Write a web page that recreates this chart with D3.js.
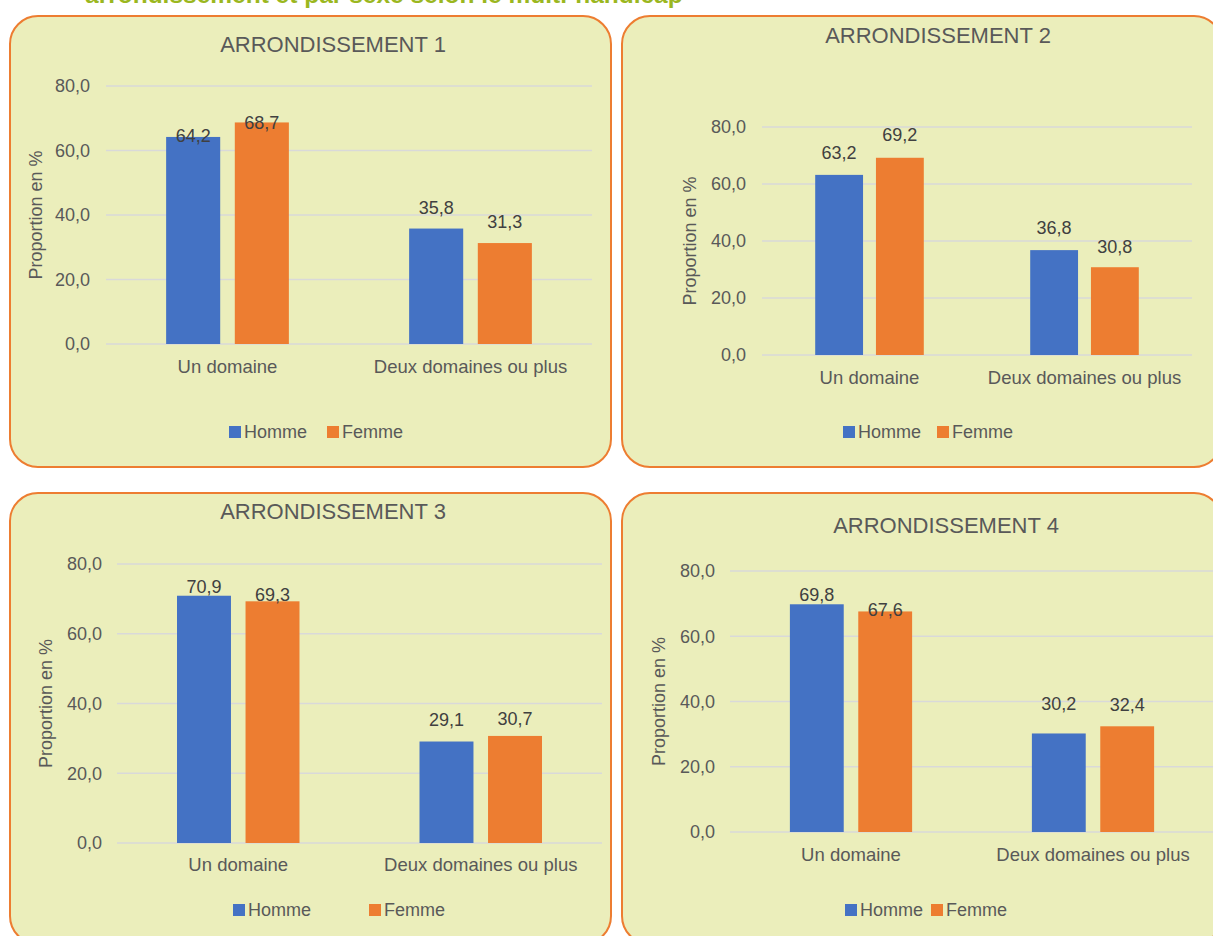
<!DOCTYPE html>
<html>
<head>
<meta charset="utf-8">
<script src="https://cdn.jsdelivr.net/npm/d3@7"></script>
<style>
  body { margin: 0; background: #ffffff; }
  svg { display: block; font-family: "Liberation Sans", Arial, sans-serif; }
  .grid line { stroke: #d9d9d9; stroke-width: 1.5; }
  .tick text { fill: #595959; font-size: 18px; }
</style>
</head>
<body>
<div id="chart"></div>
<script>
// data
var categories = ["Un domaine", "Deux domaines ou plus"];
var series = ["Homme", "Femme"];
var titles = ["ARRONDISSEMENT 1", "ARRONDISSEMENT 2", "ARRONDISSEMENT 3", "ARRONDISSEMENT 4"];
var homme = [[64.2, 35.8], [63.2, 36.8], [70.9, 29.1], [69.8, 30.2]];
var femme = [[68.7, 31.3], [69.2, 30.8], [69.3, 30.7], [67.6, 32.4]];
var yTicks = [0, 20, 40, 60, 80];
var pageTitle = "arrondissement et par sexe selon le multi-handicap";

var colors = ["#4472c4", "#ed7d31"];

// layout of the four panels (absolute page coordinates)
var panels = [
    { box: [10, 16, 601, 451], title: [333, 44], x: [106, 592], y: [344, 86], tickX: 90, ylabX: 36, catY: 367, legY: 432, leg: [229, 327],
      lab: [[-1, 0], [-21, -21]] },
    { box: [622, 16, 600, 451], title: [938, 35], x: [762, 1192], y: [355, 127], tickX: 746, ylabX: 690, catY: 378, legY: 432, leg: [843, 937],
      lab: [[-22, -23], [-22, -21]] },
    { box: [10, 493, 601, 451], title: [333, 511], x: [117, 602], y: [843, 564], tickX: 102, ylabX: 46, catY: 865, legY: 910, leg: [233, 369],
      lab: [[-9, -7], [-22, -17]] },
    { box: [622, 493, 600, 451], title: [946, 525], x: [730, 1214], y: [832, 571], tickX: 715, ylabX: 659, catY: 855, legY: 910, leg: [845, 931],
      lab: [[-10, -2], [-30, -22]] }
];

var fr = d3.formatLocale({ decimal: ",", thousands: " ", grouping: [3], currency: ["", " €"] });
var fmt = fr.format(".1f");

var svg = d3.select("#chart").append("svg")
    .attr("width", 1213)
    .attr("height", 936);

// heading above the panels, cut off by the top edge as in the source
svg.append("text")
    .attr("x", 85)
    .attr("y", 3)
    .attr("fill", "#9bb71f")
    .style("font-size", "24.5px")
    .style("font-weight", "bold")
    .text(pageTitle);

panels.forEach(function (p, i) {
    var g = svg.append("g");

    g.append("rect")
        .attr("x", p.box[0])
        .attr("y", p.box[1])
        .attr("width", p.box[2])
        .attr("height", p.box[3])
        .attr("rx", 28)
        .attr("fill", "#ebeebb")
        .attr("stroke", "#ed7d31")
        .attr("stroke-width", 2);

    g.append("text")
        .attr("x", p.title[0])
        .attr("y", p.title[1])
        .attr("dy", "0.35em")
        .attr("text-anchor", "middle")
        .attr("fill", "#595959")
        .style("font-size", "22px")
        .text(titles[i]);

    var xScale = d3.scaleBand()
        .domain(categories)
        .range(p.x)
        .padding(0);

    var yScale = d3.scaleLinear()
        .domain([0, 80])
        .range(p.y);

    // gridlines
    g.append("g")
        .attr("class", "grid")
        .selectAll("line")
        .data(yTicks)
        .enter().append("line")
        .attr("x1", p.x[0])
        .attr("x2", p.x[1])
        .attr("y1", function (d) { return yScale(d); })
        .attr("y2", function (d) { return yScale(d); });

    var yAxis = g.append("g")
        .attr("transform", "translate(" + p.tickX + ",0)")
        .call(d3.axisLeft(yScale).tickValues(yTicks).tickFormat(fmt).tickSize(0).tickPadding(0));
    yAxis.select(".domain").remove();
    yAxis.selectAll("text").attr("font-family", null).attr("font-size", null);

    g.append("text")
        .attr("transform", "translate(" + p.ylabX + "," + ((p.y[0] + p.y[1]) / 2) + ") rotate(-90)")
        .attr("dy", "0.35em")
        .attr("text-anchor", "middle")
        .attr("fill", "#595959")
        .style("font-size", "18px")
        .text("Proportion en %");

    var bw = xScale.bandwidth() * 0.2225;
    var gap = bw * 0.27;
    var vals = [homme[i], femme[i]];

    function barX(s, c) {
        var mid = xScale(c) + xScale.bandwidth() / 2;
        return s === 0 ? mid - gap / 2 - bw : mid + gap / 2;
    }

    series.forEach(function (name, s) {
        g.selectAll(".bar" + s)
            .data(categories)
            .enter().append("rect")
            .attr("x", function (c) { return barX(s, c); })
            .attr("y", function (c, k) { return yScale(vals[s][k]); })
            .attr("width", bw)
            .attr("height", function (c, k) { return yScale(0) - yScale(vals[s][k]); })
            .attr("fill", colors[s]);

        g.selectAll(".lab" + s)
            .data(categories)
            .enter().append("text")
            .attr("x", function (c) { return barX(s, c) + bw / 2; })
            .attr("y", function (c, k) { return yScale(vals[s][k]) + p.lab[k][s]; })
            .attr("dy", "0.35em")
            .attr("text-anchor", "middle")
            .attr("fill", "#404040")
            .style("font-size", "18px")
            .text(function (c, k) { return fmt(vals[s][k]); });
    });

    g.selectAll(".cat")
        .data(categories)
        .enter().append("text")
        .attr("x", function (c) { return xScale(c) + xScale.bandwidth() / 2; })
        .attr("y", p.catY)
        .attr("dy", "0.35em")
        .attr("text-anchor", "middle")
        .attr("fill", "#595959")
        .style("font-size", "18.5px")
        .text(function (c) { return c; });

    // legend
    series.forEach(function (name, s) {
        g.append("rect")
            .attr("x", p.leg[s])
            .attr("y", p.legY - 6)
            .attr("width", 12)
            .attr("height", 12)
            .attr("fill", colors[s]);
        g.append("text")
            .attr("x", p.leg[s] + 15)
            .attr("y", p.legY)
            .attr("dy", "0.35em")
            .attr("fill", "#595959")
            .style("font-size", "18px")
            .text(name);
    });
});
</script>
</body>
</html>
